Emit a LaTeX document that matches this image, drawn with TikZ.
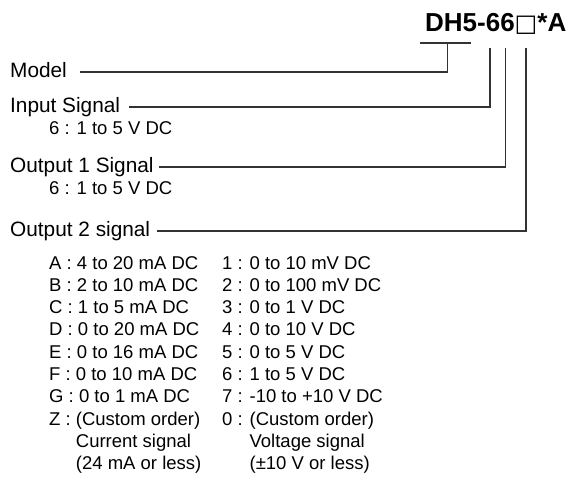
\documentclass[tikz,border=0pt]{standalone}
\usepackage{fontspec}
\setmainfont{Liberation Sans}
\newfontfamily\symfont{DejaVu Sans}
\begin{document}
\begin{tikzpicture}[x=1pt,y=-1pt,
  lab/.style={anchor=base west, inner sep=0pt, font=\fontsize{20.8}{24}\selectfont},
  sub/.style={anchor=base west, inner sep=0pt, font=\fontsize{18.5}{21}\selectfont},
  ln/.style={line width=1.2pt, draw=black!80}]
\useasboundingbox (0,0) rectangle (568,485);
\node[anchor=base east, inner sep=0pt, font=\bfseries\fontsize{26}{29}\selectfont] (title) at (566.5,31) {DH5-66{\symfont\mdseries\fontsize{24}{29}\selectfont □}*A};
% labels
\node[lab] (model) at (10,77.5) {Model};
\node[lab] (inp) at (10,112.5) {Input Signal};
\node[sub] (inp6) at (49,134.5) {6 : 1 to 5 V DC};
\node[lab] (out1) at (10,172.5) {Output 1 Signal};
\node[sub] (out16) at (49,194.5) {6 : 1 to 5 V DC};
\node[lab] (out2) at (10,236.5) {Output 2 signal};
% connectors
\coordinate (bl) at (420,43);
\coordinate (br) at (471,43);
\coordinate (mtop) at (447.5,43);
\coordinate (mj) at (447.5,72);
\coordinate (ms) at (80,72);
\coordinate (itop) at (490,48);
\coordinate (ij) at (490,107);
\coordinate (is) at (129,107);
\coordinate (o1top) at (505.5,48);
\coordinate (o1j) at (505.5,167);
\coordinate (o1s) at (159,167);
\coordinate (o2top) at (526,48);
\coordinate (o2j) at (526,231);
\coordinate (o2s) at (157,231);
\draw[ln] (bl) -- (br);
\draw[ln] (ms) -- (mj) -- (mtop);
\draw[ln] (is) -- (ij) -- (itop);
\draw[ln] (o1s) -- (o1j) -- (o1top);
\draw[ln] (o2s) -- (o2j) -- (o2top);
% rows
\foreach \i/\l/\r in {0/{A : 4 to 20 mA DC}/{1 : 0 to 10 mV DC},
                      1/{B : 2 to 10 mA DC}/{2 : 0 to 100 mV DC},
                      2/{C : 1 to 5 mA DC}/{3 : 0 to 1 V DC},
                      3/{D : 0 to 20 mA DC}/{4 : 0 to 10 V DC},
                      4/{E : 0 to 16 mA DC}/{5 : 0 to 5 V DC},
                      5/{F : 0 to 10 mA DC}/{6 : 1 to 5 V DC},
                      6/{G : 0 to 1 mA DC}/{7 : -10 to +10 V DC},
                      7/{Z : (Custom order)}/{0 : (Custom order)},
                      8/{\phantom{Z : }Current signal}/{\phantom{0 : }Voltage signal},
                      9/{\phantom{Z : }(24 mA or less)}/{\phantom{0 : }(±10 V or less)}}{
  \node[sub] (l\i) at (49,269+22.3*\i) {\l};
  \node[sub] (r\i) at (222,269+22.3*\i) {\r};
}
\end{tikzpicture}
\end{document}
